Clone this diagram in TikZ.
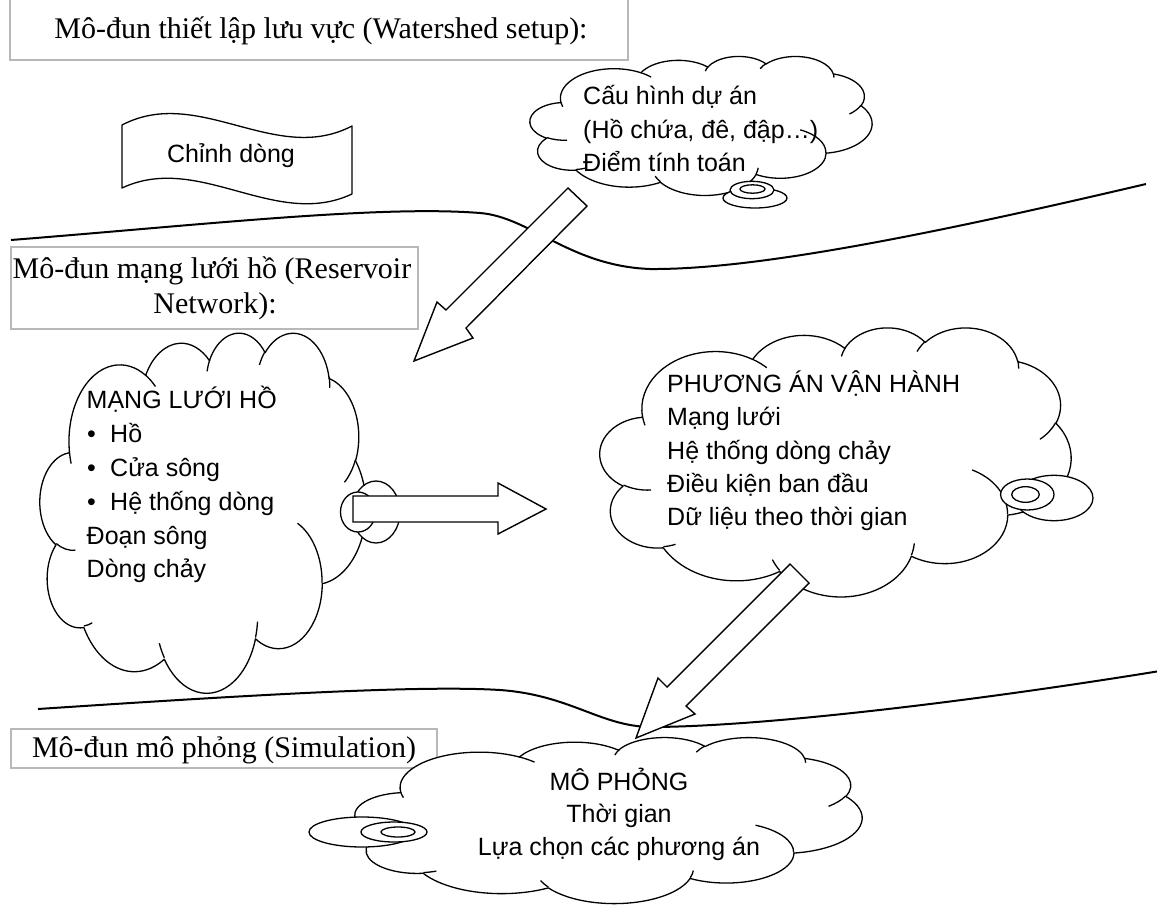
\documentclass[tikz,border=0pt]{standalone}
\usepackage{fontspec}
\setmainfont{Liberation Serif}
\newfontfamily\sansvn{Liberation Sans}

% Cloud outline (43.2 x 43.2 design units, y pointing down) placed in a box at (#1,#2) of size #3 x #4
\newcommand{\pptcloud}[4]{%
\begin{scope}[shift={(#1,#2)},y=1bp,xscale=#3/43.2,yscale=-#4/43.2]
 \draw[cloudline,fill=white] (3.900,14.370)
   arc[start angle=-187.745,end angle=-59.630,x radius=6.753,y radius=9.190]
   arc[start angle=-152.023,end angle=-45.453,x radius=5.333,y radius=7.267]
   arc[start angle=-153.489,end angle=-37.331,x radius=4.365,y radius=5.945]
   arc[start angle=-139.714,end angle=-10.211,x radius=4.857,y radius=6.595]
   arc[start angle=-74.769,end angle=23.208,x radius=5.333,y radius=7.273]
   arc[start angle=-37.525,end angle=81.863,x radius=6.775,y radius=9.220]
   arc[start angle=0.460,end angle=121.975,x radius=5.785,y radius=7.867]
   arc[start angle=16.844,end angle=146.240,x radius=6.752,y radius=9.215]
   arc[start angle=59.031,end angle=150.185,x radius=7.720,y radius=10.543]
   arc[start angle=83.306,end angle=223.106,x radius=4.360,y radius=5.918]
   arc[start angle=120.357,end angle=264.113,x radius=4.345,y radius=5.945]
   -- cycle;
 \draw[cloudline]
   (4.693,26.177) arc[start angle=85.547,end angle=120.357,x radius=4.345,y radius=5.945]
   (6.928,34.899) arc[start angle=68.237,end angle=83.306,x radius=4.360,y radius=5.918]
   (16.478,39.090) arc[start angle=146.240,end angle=158.474,x radius=6.752,y radius=9.215]
   (28.827,34.751) arc[start angle=4.737,end angle=16.844,x radius=6.752,y radius=9.215]
   (34.129,22.954) arc[start angle=-64.029,end angle=0.460,x radius=5.785,y radius=7.867]
   (41.798,15.354) arc[start angle=23.208,end angle=49.641,x radius=5.333,y radius=7.273]
   (38.324,5.426) arc[start angle=-10.211,end angle=0.821,x radius=4.857,y radius=6.595]
   (29.078,3.952) arc[start angle=-156.282,end angle=-139.714,x radius=4.857,y radius=6.595]
   (22.141,4.720) arc[start angle=-167.726,end angle=-153.489,x radius=4.365,y radius=5.945]
   (14.000,5.192) arc[start angle=-59.630,end angle=-45.734,x radius=6.753,y radius=9.190]
   (4.127,15.789) arc[start angle=163.193,end angle=172.255,x radius=6.753,y radius=9.190];
\end{scope}}

\begin{document}
\begin{tikzpicture}[x=1bp,y=-1bp,
  cloudline/.style={draw=black,line width=1.3bp,line join=round},
  bline/.style={draw=black,line width=2bp},
  blockarrow/.style={draw=black,fill=white,line width=1.4bp,line join=miter},
  bubble/.style={draw=black,fill=white,line width=1.3bp},
  gbox/.style={draw=black!28,line width=1.2bp},
  serifT/.style={font=\fontsize{30.1}{36}\selectfont,inner sep=0pt},
  sansT/.style={font=\sansvn\fontsize{25.1}{30}\selectfont,inner sep=0pt}]

\useasboundingbox (0,0) rectangle (1157,911);
\fill[white] (0,0) rectangle (1157,911);

% module title boxes
\draw[gbox] (10,-5) rectangle (628,60);
\node[serifT,anchor=base] (hdr) at (321,38) {Mô-đun thiết lập lưu vực (Watershed setup):};
\draw[gbox] (11,247) rectangle (418,329);
\node[serifT,anchor=base] (res1) at (212,278) {Mô-đun mạng lưới hồ (Reservoir};
\node[serifT,anchor=base] (res2) at (215,313) {Network):};
\draw[gbox] (11,729) rectangle (437,768);
\node[serifT,anchor=base] (sim) at (224,757) {Mô-đun mô phỏng (Simulation)};

% module boundaries
\draw[bline] (11,240) .. controls (200,225) and (380,205) .. (480,213)
  .. controls (530,217) and (570,266) .. (650,269)
  .. controls (760,270) and (950,230) .. (1146,184);
\draw[bline] (38,709) .. controls (250,695) and (420,685) .. (500,690)
  .. controls (570,695) and (600,726) .. (650,727)
  .. controls (750,727) and (950,705) .. (1160,671);

% wave banner
\draw[cloudline,fill=white] (122,125) .. controls (198.7,85) and (275.3,166) .. (352,126)
  -- (352,194) .. controls (275.3,230) and (198.7,152) .. (122,188) -- cycle;
\node[sansT,anchor=base] (cd) at (231,162) {Chỉnh dòng};

% project configuration cloud
\pptcloud{530}{56}{342}{139}
\draw[bubble] (755,198) ellipse [x radius=32,y radius=10];
\draw[bubble] (752,190) ellipse [x radius=22,y radius=8.7];
\draw[bubble] (752.5,189) ellipse [x radius=12.5,y radius=4.2];
\node[sansT,anchor=base west] (c1) at (583,104.5) {Cấu hình dự án};
\node[sansT,anchor=base west] (c2) at (583,138) {(Hồ chứa, đê, đập…)};
\node[sansT,anchor=base west] (c3) at (583,171.5) {Điểm tính toán};

% reservoir network cloud
\pptcloud{40}{332}{326}{360}
\draw[bubble] (376,512) ellipse [x radius=24,y radius=31];
\draw[bubble] (358,512) ellipse [x radius=17.5,y radius=20];
\node[sansT,anchor=base west] (n0) at (86.5,408) {MẠNG LƯỚI HỒ};
\node[sansT,anchor=base west] (b1) at (87,442) {•};
\node[sansT,anchor=base west] (n1) at (110,442) {Hồ};
\node[sansT,anchor=base west] (b2) at (87,476) {•};
\node[sansT,anchor=base west] (n2) at (110,476) {Cửa sông};
\node[sansT,anchor=base west] (b3) at (87,510) {•};
\node[sansT,anchor=base west] (n3) at (110,510) {Hệ thống dòng};
\node[sansT,anchor=base west] (n4) at (86.5,544) {Đoạn sông};
\node[sansT,anchor=base west] (n5) at (86.5,577) {Dòng chảy};

% operation scenario cloud
\pptcloud{600}{327}{471}{269}
\draw[bubble] (1054,498) ellipse [x radius=39,y radius=22.7];
\draw[bubble] (1027.3,494.5) ellipse [x radius=26.7,y radius=15.5];
\draw[bubble] (1025.5,494.5) ellipse [x radius=13.8,y radius=7.8];
\node[sansT,anchor=base west] (p0) at (667,392.5) {PHƯƠNG ÁN VẬN HÀNH};
\node[sansT,anchor=base west] (p1) at (667,425.7) {Mạng lưới};
\node[sansT,anchor=base west] (p2) at (667,459) {Hệ thống dòng chảy};
\node[sansT,anchor=base west] (p3) at (667,492.2) {Điều kiện ban đầu};
\node[sansT,anchor=base west] (p4) at (667,525.4) {Dữ liệu theo thời gian};

% simulation cloud
\pptcloud{355}{737}{507}{166}
\draw[bubble] (362,832) ellipse [x radius=53,y radius=15];
\draw[bubble] (394,832) ellipse [x radius=33,y radius=10];
\draw[bubble] (398,832) ellipse [x radius=17,y radius=5];
\node[sansT,anchor=base] (s0) at (619,790.5) {MÔ PHỎNG};
\node[sansT,anchor=base] (s1) at (619,822.5) {Thời gian};
\node[sansT,anchor=base] (s2) at (619,855) {Lựa chọn các phương án};

% block arrows
\draw[blockarrow] (568,188) -- (587,206) -- (466,328) -- (473,338) -- (414,361) -- (437,302) -- (446,310) -- cycle;
\draw[blockarrow] (353,496) -- (498,496) -- (498,483) -- (546,509) -- (498,534) -- (498,522) -- (353,522) -- cycle;
\draw[blockarrow] (790,564) -- (809,583) -- (686,706) -- (695,714) -- (636,738) -- (658,678) -- (667,687) -- cycle;

\end{tikzpicture}
\end{document}
